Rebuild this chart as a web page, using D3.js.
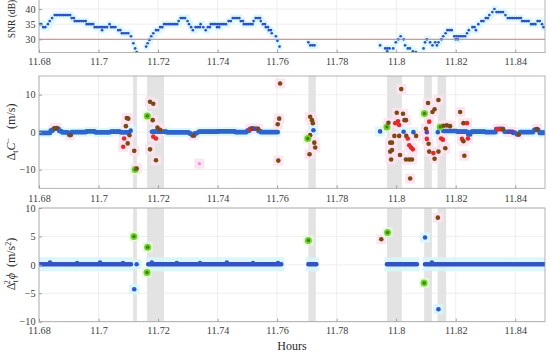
<!DOCTYPE html>
<html lang="en">
<head>
    <meta charset="UTF-8">
    <script src="https://d3js.org/d3.v7.min.js"></script>
    <style>
        body {
            margin: 0;
            background: #fff;
        }
        svg, svg text {
            font-family: "Liberation Serif", "Times New Roman", serif;
        }
    </style>
</head>
<body>
    <svg id="chart" width="550" height="355"></svg>

    <script>
        // ---- data (hours on x) ----
        const xDomain = [11.68, 11.85];
        const xTicks = [11.68, 11.7, 11.72, 11.74, 11.76, 11.78, 11.8, 11.82, 11.84];
        const xTickLabels = ["11.68", "11.7", "11.72", "11.74", "11.76", "11.78", "11.8", "11.82", "11.84"];

        const snrTicks = [30, 35, 40];
        const codeTicks = [-10, 0, 10];
        const phaseTicks = [-10, -5, 0, 5, 10];
        const snrThreshold = 30;

        // SNR held constant over [start, end] (dB)
        const snrRuns = [
            [11.6800, 11.6812, 35], [11.6814, 11.6828, 34], [11.6830, 11.6834, 35], [11.6836, 11.6842, 36],
            [11.6844, 11.6850, 37], [11.6853, 11.6907, 38], [11.6910, 11.6918, 37], [11.6920, 11.6958, 36],
            [11.6960, 11.6985, 35], [11.6987, 11.7010, 34], [11.7012, 11.7012, 33], [11.7014, 11.7034, 34],
            [11.7037, 11.7040, 35], [11.7042, 11.7064, 34], [11.7066, 11.7076, 33], [11.7078, 11.7106, 32],
            [11.7109, 11.7109, 31], [11.7117, 11.7117, 28.7], [11.7123, 11.7123, 27], [11.7128, 11.7128, 25.8],
            [11.7160, 11.7162, 27.6], [11.7165, 11.7168, 28.7], [11.7171, 11.7174, 29.8], [11.7177, 11.7181, 31],
            [11.7184, 11.7190, 32], [11.7193, 11.7204, 33], [11.7207, 11.7217, 34], [11.7220, 11.7267, 35],
            [11.7269, 11.7274, 36], [11.7276, 11.7297, 37], [11.7299, 11.7302, 36], [11.7304, 11.7309, 35],
            [11.7311, 11.7315, 34], [11.7317, 11.7324, 33], [11.7326, 11.7341, 34], [11.7343, 11.7350, 35],
            [11.7352, 11.7358, 34], [11.7360, 11.7365, 33], [11.7367, 11.7375, 34], [11.7377, 11.7435, 35],
            [11.7398, 11.7410, 34], [11.7437, 11.7449, 36], [11.7451, 11.7476, 37], [11.7478, 11.7486, 36],
            [11.7488, 11.7519, 35], [11.7521, 11.7526, 36], [11.7528, 11.7543, 37], [11.7545, 11.7550, 36],
            [11.7552, 11.7560, 35], [11.7562, 11.7570, 34], [11.7572, 11.7580, 33], [11.7582, 11.7588, 32],
            [11.7596, 11.7596, 31], [11.7601, 11.7601, 29.5], [11.7608, 11.7608, 27.6],
            [11.7705, 11.7705, 29], [11.7711, 11.7730, 28],
            [11.7946, 11.7946, 28], [11.7963, 11.7980, 27], [11.7970, 11.7976, 26], [11.7990, 11.7990, 27],
            [11.7999, 11.7999, 29], [11.8007, 11.8007, 30], [11.8015, 11.8017, 31], [11.8025, 11.8025, 30],
            [11.8030, 11.8030, 28], [11.8039, 11.8050, 27], [11.8056, 11.8056, 26], [11.8066, 11.8066, 25.8],
            [11.8092, 11.8092, 27], [11.8097, 11.8097, 29], [11.8103, 11.8107, 30], [11.8114, 11.8114, 29],
            [11.8122, 11.8122, 28], [11.8131, 11.8131, 29], [11.8137, 11.8137, 28], [11.8142, 11.8146, 29],
            [11.8152, 11.8152, 30], [11.8158, 11.8163, 31], [11.8166, 11.8169, 32], [11.8172, 11.8187, 33],
            [11.8195, 11.8235, 31], [11.8200, 11.8212, 30], [11.8238, 11.8241, 32], [11.8244, 11.8250, 33],
            [11.8256, 11.8265, 34], [11.8268, 11.8270, 33], [11.8276, 11.8282, 35], [11.8286, 11.8298, 36],
            [11.8301, 11.8310, 37], [11.8313, 11.8320, 38], [11.8323, 11.8327, 39], [11.8330, 11.8334, 40],
            [11.8337, 11.8364, 39], [11.8367, 11.8372, 38], [11.8375, 11.8420, 37], [11.8423, 11.8450, 36],
            [11.8453, 11.8471, 35], [11.8475, 11.8487, 36], [11.8490, 11.8493, 35], [11.8495, 11.8501, 34]
        ];

        // time-differenced code, clean epochs (m/s)
        const codeRuns = [
            [11.6800, 11.6837, -0.2], [11.6839, 11.6847, 0.4], [11.6849, 11.6866, 0.9], [11.6868, 11.6876, 0.3],
            [11.6878, 11.6899, -0.1], [11.6901, 11.6908, -0.7], [11.6910, 11.6960, 0.0], [11.6960, 11.6990, 0.2],
            [11.6990, 11.7040, -0.1], [11.7040, 11.7075, 0.1], [11.7075, 11.7105, -0.1],
            [11.7179, 11.7230, 0.1], [11.7230, 11.7305, -0.1], [11.7307, 11.7313, -0.4], [11.7315, 11.7322, -0.9],
            [11.7324, 11.7334, -0.3], [11.7336, 11.7400, 0.1], [11.7400, 11.7460, 0.2], [11.7460, 11.7500, 0.0],
            [11.7500, 11.7508, 0.4], [11.7510, 11.7535, 0.9], [11.7537, 11.7545, 0.3], [11.7545, 11.7604, 0.0],
            [11.8158, 11.8205, 0.3], [11.8205, 11.8240, 0.1], [11.8242, 11.8250, -0.6], [11.8252, 11.8300, 0.1],
            [11.8300, 11.8334, 0.0], [11.8336, 11.8362, 0.8], [11.8364, 11.8392, 0.1], [11.8394, 11.8404, -0.2],
            [11.8406, 11.8414, -0.6], [11.8416, 11.8462, 0.0], [11.8464, 11.8480, 0.6], [11.8482, 11.8501, -0.2]
        ];

        // [hour, value, class]
        const codePoints = [
            [11.6852, 1.0, "brown"], [11.6860, 1.1, "brown"], [11.6905, -0.8, "brown"],
            [11.7083, -3.9, "red"], [11.7086, -1.7, "red"], [11.7092, 1.6, "brown"], [11.7095, 3.8, "brown"],
            [11.7100, 3.6, "brown"], [11.7098, -3.0, "brown"], [11.7104, -0.8, "brown"], [11.7108, 0.4, "blue"],
            [11.7120, -5.0, "brown"], [11.7123, -10.0, "green"], [11.7128, -9.7, "brown"],
            [11.7164, 4.3, "green"], [11.7173, 8.1, "brown"], [11.7184, 7.6, "brown"], [11.7182, 3.2, "brown"],
            [11.7173, -4.6, "brown"], [11.7184, -1.2, "red"], [11.7193, -1.7, "red"], [11.7193, -7.5, "brown"],
            [11.7198, 1.2, "brown"], [11.7207, 0.6, "brown"],
            [11.7319, -0.9, "brown"], [11.7339, -8.4, "magenta"],
            [11.7509, 0.8, "red"], [11.7516, 1.0, "brown"], [11.7524, 0.9, "purple"], [11.7536, 0.9, "brown"],
            [11.7602, 2.1, "brown"], [11.7607, 3.6, "brown"], [11.7610, 13.0, "brown"], [11.7604, -7.6, "brown"],
            [11.7711, 4.1, "brown"], [11.7717, 3.2, "brown"], [11.7720, 2.4, "brown"], [11.7711, -0.8, "brown"],
            [11.7703, -1.7, "green"], [11.7725, -2.8, "brown"], [11.7728, -4.1, "brown"], [11.7709, -5.9, "brown"],
            [11.7722, 0.5, "blue"], [11.7946, 0.2, "blue"],
            [11.7969, 1.4, "green"], [11.7974, 2.5, "brown"], [11.7980, -2.8, "brown"], [11.7986, -2.8, "brown"],
            [11.7980, -5.2, "brown"], [11.7986, -4.8, "brown"], [11.7983, -7.3, "brown"], [11.8002, 5.2, "brown"],
            [11.8017, 11.5, "brown"], [11.8006, 2.9, "red"], [11.7997, 2.4, "red"], [11.8010, 1.9, "red"],
            [11.7994, -1.0, "brown"], [11.8010, -1.0, "brown"], [11.8023, 4.9, "brown"], [11.8025, 0.1, "blue"],
            [11.8028, 3.2, "brown"], [11.8033, 3.2, "brown"], [11.8034, -1.0, "brown"], [11.8013, -6.1, "brown"],
            [11.8039, -1.7, "red"], [11.8044, -3.5, "red"], [11.8050, -4.1, "red"], [11.8056, -4.6, "red"],
            [11.8033, -7.3, "brown"], [11.8044, -7.3, "brown"], [11.8053, -7.3, "brown"], [11.8047, -12.4, "brown"],
            [11.8058, 0.0, "blue"], [11.8067, -1.0, "brown"],
            [11.8095, 5.0, "green"], [11.8107, 7.8, "brown"], [11.8103, 0.0, "purple"], [11.8100, 0.9, "brown"],
            [11.8111, 2.8, "red"], [11.8103, -1.8, "red"], [11.8109, -3.1, "brown"], [11.8111, -5.2, "brown"],
            [11.8122, 5.4, "brown"], [11.8129, 6.1, "brown"], [11.8142, 8.6, "brown"], [11.8129, -7.1, "brown"],
            [11.8125, -5.6, "red"], [11.8142, -5.2, "brown"], [11.8140, 0.0, "blue"], [11.8148, 1.4, "green"],
            [11.8151, -1.7, "red"], [11.8157, -2.0, "red"], [11.8165, -4.3, "brown"], [11.8159, 1.7, "brown"],
            [11.8170, 1.8, "brown"], [11.8181, 1.6, "brown"],
            [11.8215, 5.4, "brown"], [11.8226, 2.4, "brown"], [11.8238, 2.4, "red"], [11.8221, -1.8, "red"],
            [11.8226, -2.4, "brown"], [11.8241, -1.7, "red"], [11.8229, -6.3, "brown"],
            [11.8340, 0.8, "red"], [11.8350, 0.9, "red"], [11.8358, 0.8, "brown"], [11.8380, 0.1, "purple"],
            [11.8390, 0.0, "purple"], [11.8411, -0.6, "brown"], [11.8473, 0.8, "brown"]
        ];

        // second time difference of phase (m/s^2)
        const phaseRuns = [
            [11.6800, 11.7110, 0.1], [11.7167, 11.7617, 0.1], [11.7705, 11.7733, 0.1],
            [11.7969, 11.8070, 0.1], [11.8097, 11.8501, 0.1]
        ];

        const phasePoints = [
            [11.6837, 0.4, "blue"], [11.6928, 0.3, "blue"], [11.7005, 0.4, "blue"], [11.7082, 0.3, "blue"],
            [11.7128, 0.1, "blue"], [11.7120, -4.3, "blue"], [11.7119, 5.0, "green"], [11.7165, 3.1, "green"],
            [11.7163, -1.35, "green"], [11.7179, 0.4, "blue"], [11.7263, 0.3, "blue"], [11.7341, 0.3, "blue"],
            [11.7431, 0.4, "blue"], [11.7519, 0.3, "blue"], [11.7603, 0.3, "blue"],
            [11.7705, 4.3, "green"], [11.7950, 4.5, "brown"], [11.7971, 5.7, "green"],
            [11.8097, 4.8, "blue"], [11.8094, -3.2, "green"], [11.8120, 0.4, "blue"],
            [11.8140, 8.3, "brown"], [11.8142, -7.8, "blue"]
        ];

        // epochs flagged (grey)
        const flaggedBands = [
            [11.7116, 11.7129], [11.7163, 11.7220], [11.7705, 11.7730],
            [11.7969, 11.8019], [11.8094, 11.8120], [11.8139, 11.8168]
        ];

        // ---- drawing ----
        const svg = d3.select("#chart");
        const x = d3.scaleLinear().domain(xDomain).range([39, 545]);

        const fills = {
            blue: "#3158c8", brown: "#7a4a14", red: "#e22a2a", purple: "#5a44b4",
            green: "#6ad42c", magenta: "#ee8ce0"
        };
        const halos = {
            blue: "#d6f8fb", brown: "#fde2f0", red: "#fde2f0", purple: "#fde2f0",
            green: "#e6fbd6", magenta: "#fde2f0"
        };

        const panels = [
            { id: "snr", top: -16, bottom: 52.6, y: d3.scaleLinear().domain([30, 40]).range([39.3, 9]),
              ticks: snrTicks, pad: 5.5, bands: false },
            { id: "code", top: 76, bottom: 188.3, y: d3.scaleLinear().domain([-15, 15]).range([188.3, 76]),
              ticks: codeTicks, pad: 6.5, bands: true },
            { id: "phase", top: 208, bottom: 321.7, y: d3.scaleLinear().domain([-10, 10]).range([321.7, 208]),
              ticks: phaseTicks, pad: 5.5, bands: true }
        ];

        const defs = svg.append("defs");

        // halo layer goes under every mark of the panel
        function drawRuns(haloG, g, runs, y, r, gap, color, haloW) {
            const long = runs.filter(d => x(d[1]) - x(d[0]) >= 0.5);
            const short = runs.filter(d => x(d[1]) - x(d[0]) < 0.5);
            haloG.append("g").selectAll("line").data(runs).join("line")
                .attr("x1", d => x(d[0]) - 2.5).attr("x2", d => x(d[1]) + 2.5)
                .attr("y1", d => y(d[2])).attr("y2", d => y(d[2]))
                .attr("stroke", halos.blue).attr("stroke-width", haloW);
            g.append("g").selectAll("line").data(long).join("line")
                .attr("x1", d => x(d[0])).attr("x2", d => x(d[1]))
                .attr("y1", d => y(d[2])).attr("y2", d => y(d[2]))
                .attr("stroke", color).attr("stroke-width", 2 * r)
                .attr("stroke-linecap", "round")
                .attr("stroke-dasharray", "0 " + gap);
            g.append("g").selectAll("circle").data(short).join("circle")
                .attr("cx", d => x(d[0])).attr("cy", d => y(d[2])).attr("r", r)
                .attr("fill", color);
        }

        function drawPoints(haloG, g, pts, y, r) {
            haloG.append("g").selectAll("rect").data(pts).join("rect")
                .attr("x", d => x(d[0]) - 5).attr("y", d => y(d[1]) - 5)
                .attr("width", 10).attr("height", 10)
                .attr("fill", d => halos[d[2]]);
            g.append("g").selectAll("circle").data(pts).join("circle")
                .attr("cx", d => x(d[0])).attr("cy", d => y(d[1]))
                .attr("r", d => d[2] === "green" ? r + 1.2 : d[2] === "magenta" ? 1.6 : r)
                .attr("fill", d => fills[d[2]]);
            g.append("g").selectAll("circle").data(pts.filter(d => d[2] === "green")).join("circle")
                .attr("cx", d => x(d[0])).attr("cy", d => y(d[1])).attr("r", 1.7)
                .attr("fill", "#4c7a14");
        }

        panels.forEach(p => {
            const g = svg.append("g").attr("class", p.id);
            const h = p.bottom - p.top;

            defs.append("clipPath").attr("id", "clip-" + p.id)
                .append("rect").attr("x", 39).attr("y", p.top).attr("width", 506).attr("height", h);

            // grid
            g.append("g").selectAll("line").data(xTicks).join("line")
                .attr("x1", d => x(d)).attr("x2", d => x(d))
                .attr("y1", p.top).attr("y2", p.bottom)
                .attr("stroke", "#e6e6e6").attr("stroke-width", 0.7);
            g.append("g").selectAll("line").data(p.ticks).join("line")
                .attr("x1", 39).attr("x2", 545)
                .attr("y1", d => p.y(d)).attr("y2", d => p.y(d))
                .attr("stroke", "#e6e6e6").attr("stroke-width", 0.7);

            const plot = g.append("g").attr("clip-path", "url(#clip-" + p.id + ")");

            if (p.bands) {
                plot.append("g").selectAll("rect").data(flaggedBands).join("rect")
                    .attr("x", d => x(d[0])).attr("width", d => x(d[1]) - x(d[0]))
                    .attr("y", p.top).attr("height", h)
                    .attr("fill", "#e3e3e3");
            }

            const haloG = plot.append("g").attr("opacity", 0.9);
            const marks = plot.append("g");

            if (p.id === "snr") {
                drawRuns(haloG, marks, snrRuns, p.y, 1.35, 2.2, "#3050c4", 7);
                marks.append("line")
                    .attr("x1", 39).attr("x2", 545)
                    .attr("y1", p.y(snrThreshold)).attr("y2", p.y(snrThreshold))
                    .attr("stroke", "#e07a7a").attr("stroke-width", 1);
            } else if (p.id === "code") {
                drawRuns(haloG, marks, codeRuns, p.y, 2.3, 1, "#2f64cc", 9);
                drawPoints(haloG, marks, codePoints, p.y, 2.3);
            } else {
                drawRuns(haloG, marks, phaseRuns, p.y, 2.3, 1, "#3452c4", 14);
                drawPoints(haloG, marks, phasePoints, p.y, 2.3);
            }

            // box
            g.append("rect")
                .attr("x", 39).attr("y", p.top).attr("width", 506).attr("height", h)
                .attr("fill", "none").attr("stroke", "#a0a0a0").attr("stroke-width", 0.8);

            const xAxis = g.append("g")
                .attr("transform", `translate(0,${p.bottom})`)
                .call(d3.axisBottom(x).tickValues(xTicks)
                    .tickFormat((d, i) => xTickLabels[i])
                    .tickSize(-3).tickPadding(p.pad));
            const yAxis = g.append("g")
                .attr("transform", "translate(39,0)")
                .call(d3.axisLeft(p.y).tickValues(p.ticks)
                    .tickFormat(d3.format("d"))
                    .tickSize(-3).tickPadding(3.5));

            [xAxis, yAxis].forEach(a => {
                a.attr("font-family", "Liberation Serif, serif").attr("font-size", 10.2);
                a.select(".domain").remove();
                a.selectAll(".tick line").attr("stroke", "#a0a0a0");
                a.selectAll(".tick text").attr("fill", "#3a3a3a");
            });
        });

        // axis titles
        const titleStyle = sel => sel
            .attr("fill", "#2a2a2a")
            .attr("font-size", 12)
            .attr("text-anchor", "middle");

        svg.append("text").call(titleStyle)
            .attr("font-size", 9.5)
            .attr("transform", "translate(15,19) rotate(-90)")
            .text("SNR (dB)");

        const codeLabel = svg.append("text").call(titleStyle)
            .attr("transform", "translate(15,132) rotate(-90)");
        codeLabel.append("tspan").text("Δ");
        codeLabel.append("tspan").attr("dy", 3).attr("font-size", 8).text("t");
        codeLabel.append("tspan").attr("dy", -3).attr("font-style", "italic").text("C");
        codeLabel.append("tspan").attr("dy", -4).attr("font-size", 8).text("−");
        codeLabel.append("tspan").attr("dy", 4).attr("dx", 9).text("(m/s)");

        const phaseLabel = svg.append("text").call(titleStyle)
            .attr("transform", "translate(15,264) rotate(-90)");
        phaseLabel.append("tspan").text("Δ");
        phaseLabel.append("tspan").attr("dy", 3).attr("font-size", 8).text("t");
        phaseLabel.append("tspan").attr("dy", -8).attr("dx", -4).attr("font-size", 8).text("2");
        phaseLabel.append("tspan").attr("dy", 5).attr("dx", 1).attr("font-style", "italic").text("ϕ");
        phaseLabel.append("tspan").attr("dx", 6).text("(m/s");
        phaseLabel.append("tspan").attr("dy", -4).attr("font-size", 8).text("2");
        phaseLabel.append("tspan").attr("dy", 4).text(")");

        svg.append("text").call(titleStyle)
            .attr("x", 292).attr("y", 350)
            .text("Hours");
    </script>
</body>
</html>
